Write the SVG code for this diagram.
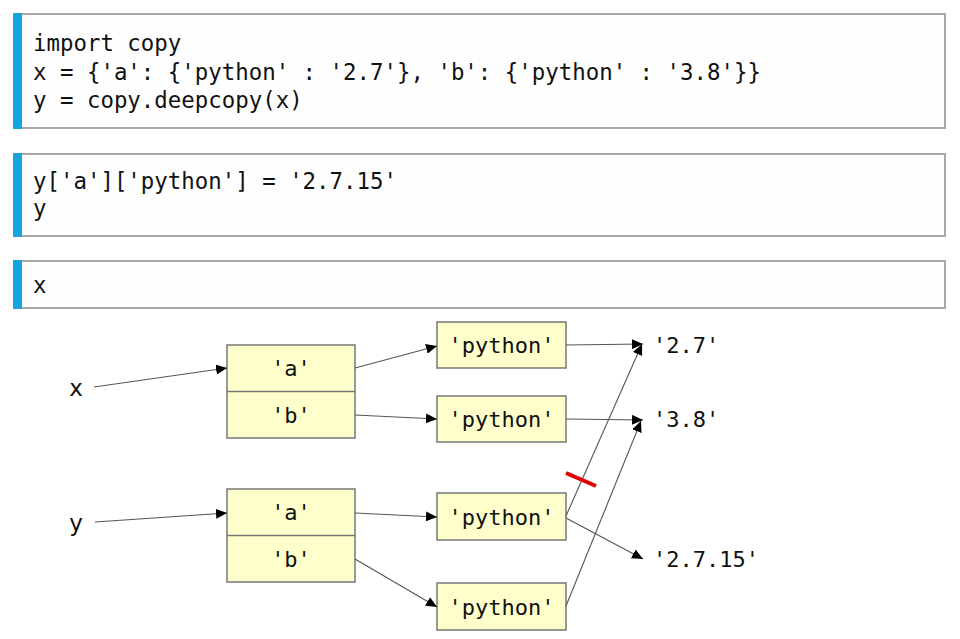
<svg xmlns="http://www.w3.org/2000/svg" width="960" height="639" viewBox="0 0 960 639">
<style>
.cell{fill:#fefefe;stroke:#a8a8a8;stroke-width:2}
.bar{fill:#17a2e0}
.code{font-family:"DejaVu Sans Mono","Liberation Mono",monospace;font-size:22.4px;fill:#111}
.box{fill:#ffffcc;stroke:#777;stroke-width:1.5}
.lbl{font-family:"DejaVu Sans Mono","Liberation Mono",monospace;font-size:22px;fill:#111}
.var{font-family:"DejaVu Sans","Liberation Sans",sans-serif;font-size:23px;fill:#111}
.edge{fill:none;stroke:#555;stroke-width:1.1;marker-end:url(#ah)}
</style>
<defs>
<marker id="ah" markerUnits="userSpaceOnUse" markerWidth="12" markerHeight="10" refX="11" refY="5" orient="auto">
<path d="M0,0 L11,5 L0,10 Z" fill="#000"/>
</marker>
</defs>
<rect width="960" height="639" fill="#fff"/>
<g id="cell1">
<rect class="cell" x="14" y="14" width="931" height="114"/>
<rect class="bar" x="13" y="13" width="9" height="116"/>
<text class="code" x="33" y="51">import copy</text>
<text class="code" x="33" y="80" xml:space="preserve">x = {'a': {'python' : '2.7'}, 'b': {'python' : '3.8'}}</text>
<text class="code" x="33" y="108">y = copy.deepcopy(x)</text>
</g>
<g id="cell2">
<rect class="cell" x="14" y="154" width="931" height="82"/>
<rect class="bar" x="13" y="153" width="9" height="84"/>
<text class="code" x="33" y="189">y['a']['python'] = '2.7.15'</text>
<text class="code" x="33" y="216">y</text>
</g>
<g id="cell3">
<rect class="cell" x="14" y="261" width="931" height="47"/>
<rect class="bar" x="13" y="260" width="9" height="49"/>
<text class="code" x="33" y="293">x</text>
</g>
<g id="var-x"><text class="var" x="76" y="396" text-anchor="middle">x</text></g>
<g id="var-y"><text class="var" x="76" y="531" text-anchor="middle">y</text></g>
<g id="dict-x">
<rect class="box" x="227" y="345" width="128" height="93"/>
<line x1="227" y1="391.5" x2="355" y2="391.5" stroke="#777" stroke-width="1.5"/>
<text class="lbl" x="291" y="376" text-anchor="middle">'a'</text>
<text class="lbl" x="291" y="423" text-anchor="middle">'b'</text>
</g>
<g id="dict-y">
<rect class="box" x="227" y="489" width="128" height="93"/>
<line x1="227" y1="535.5" x2="355" y2="535.5" stroke="#777" stroke-width="1.5"/>
<text class="lbl" x="291" y="520" text-anchor="middle">'a'</text>
<text class="lbl" x="291" y="567" text-anchor="middle">'b'</text>
</g>
<g id="py1"><rect class="box" x="437" y="322" width="129" height="46"/><text class="lbl" x="501.5" y="353" text-anchor="middle">'python'</text></g>
<g id="py2"><rect class="box" x="437" y="396" width="129" height="46"/><text class="lbl" x="501.5" y="427" text-anchor="middle">'python'</text></g>
<g id="py3"><rect class="box" x="437" y="493" width="129" height="47"/><text class="lbl" x="501.5" y="525" text-anchor="middle">'python'</text></g>
<g id="py4"><rect class="box" x="437" y="583" width="129" height="47"/><text class="lbl" x="501.5" y="615" text-anchor="middle">'python'</text></g>
<g id="v27"><text class="lbl" x="653" y="353">'2.7'</text></g>
<g id="v38"><text class="lbl" x="653" y="427">'3.8'</text></g>
<g id="v2715"><text class="lbl" x="653" y="567">'2.7.15'</text></g>
<g id="connectors">
<line class="edge" x1="94" y1="387" x2="227" y2="368"/>
<line class="edge" x1="95" y1="522" x2="227" y2="513"/>
<line class="edge" x1="355" y1="368" x2="437" y2="346"/>
<line class="edge" x1="355" y1="415" x2="437" y2="419"/>
<line class="edge" x1="355" y1="513" x2="437" y2="517"/>
<line class="edge" x1="355" y1="559" x2="437" y2="607"/>
<line class="edge" x1="566" y1="345" x2="643" y2="344"/>
<line class="edge" x1="566" y1="419" x2="643" y2="420"/>
<line class="edge" x1="566" y1="516" x2="642" y2="344"/>
<line class="edge" x1="566" y1="518" x2="643" y2="559"/>
<line class="edge" x1="566" y1="606" x2="641" y2="421"/>
<line x1="566" y1="473" x2="596" y2="486" stroke="#e00000" stroke-width="4"/>
</g>
</svg>
